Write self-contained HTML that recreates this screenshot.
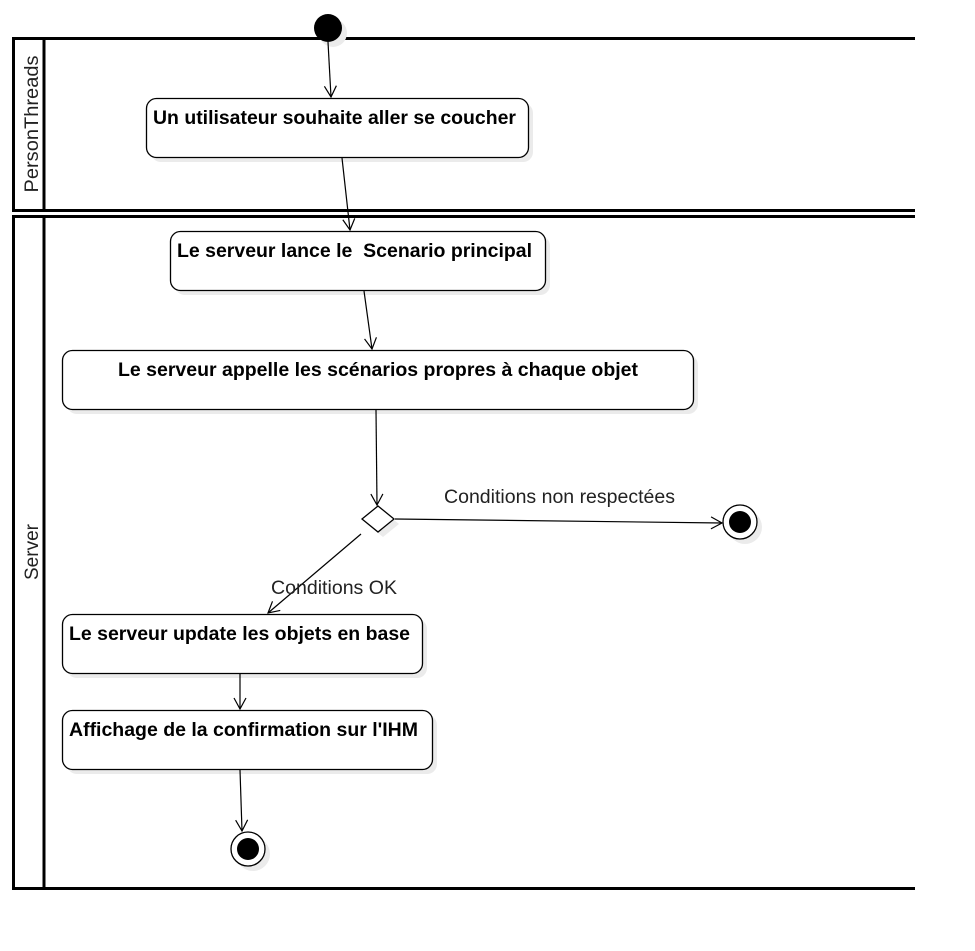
<!DOCTYPE html>
<html><head><meta charset="utf-8"><style>
html,body{margin:0;padding:0;background:#fff;}
svg{display:block;}
text{font-family:"Liberation Sans",Arial,sans-serif;white-space:pre;}
</style></head><body>
<svg width="975" height="951" viewBox="0 0 975 951" xmlns="http://www.w3.org/2000/svg">
<defs>
<marker id="a" markerWidth="14" markerHeight="14" refX="12" refY="7" orient="auto" markerUnits="userSpaceOnUse">
<path d="M1,1 L12,7 L1,13" fill="none" stroke="#000" stroke-width="1.2"/>
</marker>
</defs>
<rect x="13.5" y="38.5" width="950" height="172" fill="none" stroke="#000" stroke-width="3"/>
<line x1="44" y1="38" x2="44" y2="210" stroke="#000" stroke-width="3"/>
<rect x="13.5" y="216.5" width="950" height="672" fill="none" stroke="#000" stroke-width="3"/>
<line x1="44" y1="216" x2="44" y2="888" stroke="#000" stroke-width="3"/>
<rect x="915" y="30" width="60" height="870" fill="#fff"/>
<text transform="translate(38,124) rotate(-90)" text-anchor="middle" font-size="19" fill="#222" textLength="137" lengthAdjust="spacingAndGlyphs">PersonThreads</text>
<text transform="translate(38,552) rotate(-90)" text-anchor="middle" font-size="19" fill="#222" textLength="56" lengthAdjust="spacingAndGlyphs">Server</text>
<g fill="#ebebeb">
<circle cx="333" cy="33" r="14"/>
<rect x="151" y="103" width="382" height="59" rx="10"/>
<rect x="175" y="236" width="375" height="59" rx="10"/>
<rect x="67" y="355" width="631" height="59" rx="10"/>
<rect x="67" y="619" width="360" height="59" rx="10"/>
<rect x="67" y="715" width="370" height="59" rx="10"/>
<path d="M383,511 L399,524 L383,537 L367,524Z"/>
<circle cx="745" cy="527" r="17"/>
<circle cx="253" cy="854" r="17"/>
</g>
<circle cx="328" cy="28" r="14" fill="#000"/>
<g fill="#fff" stroke="#000" stroke-width="1.3">
<rect x="146.5" y="98.5" width="382" height="59" rx="10"/>
<rect x="170.5" y="231.5" width="375" height="59" rx="10"/>
<rect x="62.5" y="350.5" width="631" height="59" rx="10"/>
<rect x="62.5" y="614.5" width="360" height="59" rx="10"/>
<rect x="62.5" y="710.5" width="370" height="59" rx="10"/>
<path d="M378,506 L394,519 L378,532 L362,519Z"/>
<circle cx="740" cy="522" r="17"/>
<circle cx="248" cy="849" r="17"/>
</g>
<circle cx="740" cy="522" r="11" fill="#000"/>
<circle cx="248" cy="849" r="11" fill="#000"/>
<g font-size="19" font-weight="bold" fill="#000" lengthAdjust="spacingAndGlyphs">
<text x="153" y="124" textLength="363" lengthAdjust="spacingAndGlyphs">Un utilisateur souhaite aller se coucher</text>
<text x="177" y="257" textLength="355" lengthAdjust="spacingAndGlyphs">Le serveur lance le  Scenario principal</text>
<text x="118" y="376" textLength="520" lengthAdjust="spacingAndGlyphs">Le serveur appelle les scénarios propres à chaque objet</text>
<text x="69" y="640" textLength="341" lengthAdjust="spacingAndGlyphs">Le serveur update les objets en base</text>
<text x="69" y="736" textLength="349" lengthAdjust="spacingAndGlyphs">Affichage de la confirmation sur l'IHM</text>
</g>
<g stroke="#000" stroke-width="1.2" fill="none" marker-end="url(#a)">
<line x1="328" y1="42" x2="331" y2="97"/>
<line x1="342" y1="158" x2="350" y2="230"/>
<line x1="364" y1="291" x2="372" y2="349"/>
<line x1="376" y1="410" x2="377" y2="505"/>
<line x1="395" y1="519" x2="722" y2="523"/>
<line x1="361" y1="534" x2="268" y2="613"/>
<line x1="240" y1="674" x2="240" y2="709"/>
<line x1="240" y1="770" x2="242" y2="831"/>
</g>
<g font-size="19" fill="#222">
<text x="444" y="503" textLength="231" lengthAdjust="spacingAndGlyphs">Conditions non respectées</text>
<text x="271" y="594" textLength="126" lengthAdjust="spacingAndGlyphs">Conditions OK</text>
</g>
</svg>
</body></html>
